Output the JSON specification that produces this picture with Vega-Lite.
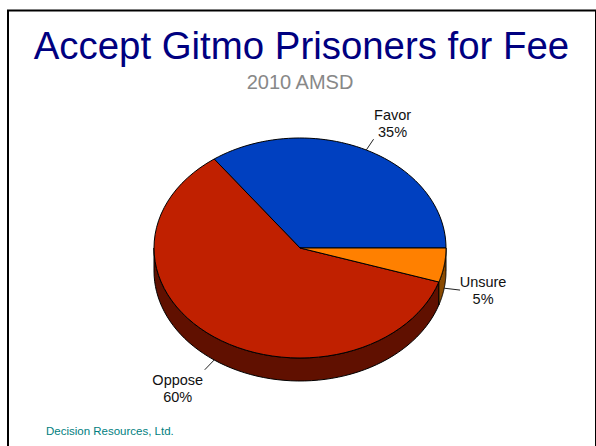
{
  "$schema": "https://vega.github.io/schema/vega-lite/v6.json",
  "width": 596,
  "height": 446,
  "padding": 0,
  "autosize": {"type": "fit", "contains": "padding"},
  "background": "white",
  "config": {"view": {"stroke": null}, "text": {"font": "Liberation Sans"}},
  "data": {"values": [
    {"slice": "Favor", "share": 35},
    {"slice": "Oppose", "share": 60},
    {"slice": "Unsure", "share": 5}
  ]},
  "transform": [
    {"window": [{"op": "sum", "field": "share", "as": "end"}]},
    {"calculate": "datum.end - datum.share", "as": "start"},
    {"calculate": "3.6 * PI / 180 * (datum.start + datum.share / 2)", "as": "mid"},
    {"calculate": "sin(datum.mid) < 0 ? 0.209 : 0", "as": "drop"},
    {"calculate": "cos(datum.mid)", "as": "rimX"},
    {"calculate": "sin(datum.mid) - datum.drop", "as": "rimY"},
    {"calculate": "1.11 * cos(datum.mid)", "as": "tipX"},
    {"calculate": "1.11 * sin(datum.mid) - datum.drop", "as": "tipY"},
    {"calculate": "datum.slice + '\\n' + datum.share + '%'", "as": "label"}
  ],
  "resolve": {"scale": {"fill": "independent"}},
  "layer": [
    {
      "data": {"values": [{}]},
      "mark": {"type": "rect", "fill": "white", "stroke": "black", "strokeWidth": 2, "clip": true},
      "encoding": {
        "x": {"datum": -2.0, "type": "quantitative", "axis": null, "scale": {"domain": [-2.0548, 2.0274], "nice": false, "zero": false}},
        "x2": {"datum": 2.0274},
        "y": {"datum": 2.16, "type": "quantitative", "axis": null, "scale": {"domain": [-1.8, 2.2545], "nice": false, "zero": false}},
        "y2": {"datum": -1.95}
      }
    },
    {
      "transform": [
        {"filter": "datum.end > 50"},
        {"calculate": "sequence(0, 122)", "as": "step"},
        {"flatten": ["step"]},
        {"calculate": "(datum.step <= 60 ? datum.step : 121 - datum.step) / 60", "as": "t"},
        {"calculate": "3.6 * PI / 180 * (max(datum.start, 50) + datum.t * (datum.end - max(datum.start, 50)))", "as": "angle"},
        {"calculate": "cos(datum.angle)", "as": "px"},
        {"calculate": "sin(datum.angle) - (datum.step <= 60 ? 0 : 0.209)", "as": "py"}
      ],
      "mark": {"type": "line", "stroke": "black", "strokeWidth": 1, "interpolate": "linear-closed"},
      "encoding": {
        "x": {"field": "px", "type": "quantitative", "axis": null},
        "y": {"field": "py", "type": "quantitative", "axis": null},
        "order": {"field": "step"},
        "fill": {"field": "slice", "legend": null, "scale": {"domain": ["Favor", "Oppose", "Unsure"], "range": ["#00288a", "#601000", "#8a4a00"]}}
      }
    },
    {
      "transform": [
        {"calculate": "sequence(0, 62)", "as": "step"},
        {"flatten": ["step"]},
        {"calculate": "3.6 * PI / 180 * (datum.start + (datum.step - 1) / 60 * datum.share)", "as": "angle"},
        {"calculate": "datum.step == 0 ? 0 : cos(datum.angle)", "as": "px"},
        {"calculate": "datum.step == 0 ? 0 : sin(datum.angle)", "as": "py"}
      ],
      "mark": {"type": "line", "stroke": "black", "strokeWidth": 1, "interpolate": "linear-closed"},
      "encoding": {
        "x": {"field": "px", "type": "quantitative", "axis": null},
        "y": {"field": "py", "type": "quantitative", "axis": null},
        "order": {"field": "step"},
        "fill": {"field": "slice", "legend": null, "scale": {"domain": ["Favor", "Oppose", "Unsure"], "range": ["#0040c0", "#c02000", "#ff8000"]}}
      }
    },
    {
      "mark": {"type": "rule", "stroke": "#222222", "strokeWidth": 1},
      "encoding": {
        "x": {"field": "rimX", "type": "quantitative", "axis": null},
        "x2": {"field": "tipX"},
        "y": {"field": "rimY", "type": "quantitative", "axis": null},
        "y2": {"field": "tipY"}
      }
    },
    {
      "transform": [{"filter": "datum.slice == 'Favor'"}],
      "mark": {"type": "text", "fontSize": 14.5, "lineHeight": 17, "lineBreak": "\n", "color": "#111111", "dx": 19, "dy": -23},
      "encoding": {
        "x": {"field": "tipX", "type": "quantitative", "axis": null},
        "y": {"field": "tipY", "type": "quantitative", "axis": null},
        "text": {"field": "label"}
      }
    },
    {
      "transform": [{"filter": "datum.slice == 'Oppose'"}],
      "mark": {"type": "text", "fontSize": 14.5, "lineHeight": 17, "lineBreak": "\n", "color": "#111111", "dx": -27, "dy": 11},
      "encoding": {
        "x": {"field": "tipX", "type": "quantitative", "axis": null},
        "y": {"field": "tipY", "type": "quantitative", "axis": null},
        "text": {"field": "label"}
      }
    },
    {
      "transform": [{"filter": "datum.slice == 'Unsure'"}],
      "mark": {"type": "text", "fontSize": 14.5, "lineHeight": 17, "lineBreak": "\n", "color": "#111111", "dx": 23, "dy": -7},
      "encoding": {
        "x": {"field": "tipX", "type": "quantitative", "axis": null},
        "y": {"field": "tipY", "type": "quantitative", "axis": null},
        "text": {"field": "label"}
      }
    },
    {
      "data": {"values": [{}]},
      "mark": {"type": "text", "text": "Accept Gitmo Prisoners for Fee", "fontSize": 38.4, "color": "#000080", "baseline": "alphabetic", "align": "center"},
      "encoding": {
        "x": {"datum": 0.01, "type": "quantitative", "axis": null},
        "y": {"datum": 1.718, "type": "quantitative", "axis": null}
      }
    },
    {
      "data": {"values": [{}]},
      "mark": {"type": "text", "text": "2010 AMSD", "fontSize": 20, "color": "#888888", "baseline": "alphabetic", "align": "center"},
      "encoding": {
        "x": {"datum": 0, "type": "quantitative", "axis": null},
        "y": {"datum": 1.445, "type": "quantitative", "axis": null}
      }
    },
    {
      "data": {"values": [{}]},
      "mark": {"type": "text", "text": "Decision Resources, Ltd.", "fontSize": 11.5, "color": "#008080", "baseline": "alphabetic", "align": "left"},
      "encoding": {
        "x": {"datum": -1.74, "type": "quantitative", "axis": null},
        "y": {"datum": -1.7, "type": "quantitative", "axis": null}
      }
    }
  ]
}
